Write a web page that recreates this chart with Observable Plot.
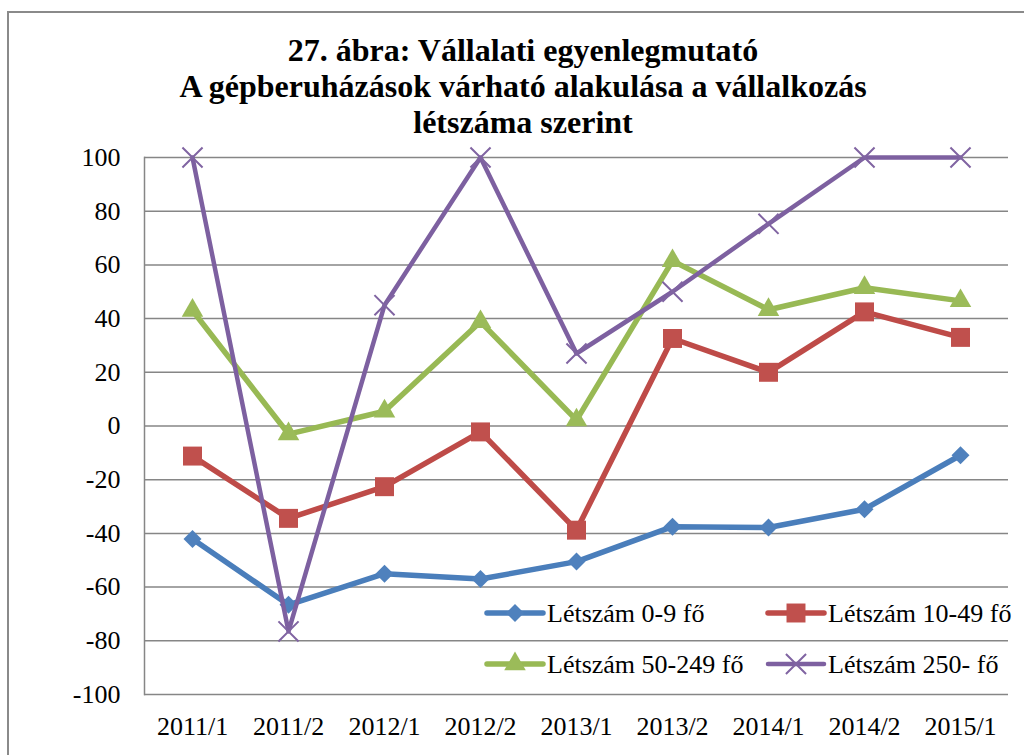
<!DOCTYPE html>
<html><head><meta charset="utf-8">
<script src="https://cdn.jsdelivr.net/npm/d3@7"></script>
<script src="https://cdn.jsdelivr.net/npm/@observablehq/plot@0.6"></script>
<style>
html,body{margin:0;padding:0;background:#fff;width:1024px;height:755px;overflow:hidden;}
#wrap{position:relative;width:1024px;height:755px;font-family:"Liberation Serif",Tinos,"Times New Roman",Times,"DejaVu Serif",serif;}
#border{position:absolute;left:7px;top:11px;width:1100px;height:1000px;border:2px solid #8a8a8a;}
#title{position:absolute;left:0;top:32px;width:1046px;text-align:center;font-weight:bold;font-size:32px;line-height:36px;color:#000;}
#chart{position:absolute;left:0;top:140px;}
#legend{position:absolute;left:0;top:0;pointer-events:none;}
#chart svg text, #legend text{font-family:"Liberation Serif",Tinos,"Times New Roman",Times,"DejaVu Serif",serif;}
</style></head>
<body><div id="wrap"><div id="border"></div><div id="title"></div><div id="chart"></div><svg id="legend" width="1024" height="755"></svg></div>
<script>
const titleLines = ["27. ábra: Vállalati egyenlegmutató", "A gépberuházások várható alakulása a vállalkozás", "létszáma szerint"];
const categories = ["2011/1","2011/2","2012/1","2012/2","2013/1","2013/2","2014/1","2014/2","2015/1"];
const seriesNames = ["Létszám 0-9 fő","Létszám 10-49 fő","Létszám 50-249 fő","Létszám 250- fő"];
const values0_9 =    [-42.1, -66.6, -55.0, -57.0, -50.5, -37.5, -37.8, -31.0, -10.9];
const values10_49 =  [-11.2, -34.4, -22.6, -2.2, -38.8, 32.6, 20.0, 42.5, 33.0];
const values50_249 = [43.0, -3.0, 5.5, 38.8, 2.2, 61.5, 43.3, 51.5, 46.6];
const values250 =    [100, -76.5, 45.0, 100, 27.0, 50.0, 75.3, 100, 100];
const yTicks = [-100,-80,-60,-40,-20,0,20,40,60,80,100];

const seriesValues = [values0_9, values10_49, values50_249, values250];
const styles = [
  {line:"#4a7ebb", width:5.5, symbol:"diamond2", r:8.1, fill:"#4f81bd", stroke:"none", sw:0},
  {line:"#be4b48", width:5.5, symbol:"square", r:10.7, fill:"#c0504d", stroke:"none", sw:0},
  {line:"#98b954", width:5.5, symbol:"triangle", r:8, fill:"#9bbb59", stroke:"none", sw:0},
  {line:"#7d60a0", width:4.5, symbol:"times", r:9.2, fill:"none", stroke:"#8064a2", sw:2}
];

document.getElementById("title").innerHTML = titleLines.join("<br>");

const marks = [
  Plot.ruleY(yTicks, {stroke:"#868686", strokeWidth:1.5}),
  Plot.frame({anchor:"left", stroke:"#868686", strokeWidth:1.5}),
  Plot.axisY(yTicks, {tickSize:0, tickPadding:24, fontSize:26, tickFormat:d => String(d)}),
  Plot.axisX({tickSize:0, tickPadding:22, fontSize:26})
];
seriesNames.forEach((name, i) => {
  const rows = categories.map((c, j) => ({cat:c, value:seriesValues[i][j], series:name}));
  const s = styles[i];
  marks.push(Plot.line(rows, {x:"cat", y:"value", stroke:s.line, strokeWidth:s.width}));
  marks.push(Plot.dot(rows, {x:"cat", y:"value", symbol:s.symbol, r:s.r, fill:s.fill, stroke:s.stroke, strokeWidth:s.sw}));
});

const chart = Plot.plot({
  width:1024, height:615,
  marginTop:17, marginBottom:61, marginLeft:144, marginRight:16,
  x:{type:"point", domain:categories, padding:0.5, label:null},
  y:{domain:[-100,100], label:null},
  style:{fontFamily:"'Liberation Serif', Tinos, 'Times New Roman', serif", fontSize:"26px", color:"#000", background:"transparent", overflow:"visible"},
  marks
});
document.getElementById("chart").appendChild(chart);

// legend (inside plot area, two rows)
const leg = d3.select("#legend");
const legPos = [[487,622],[768,622],[487,673],[768,673]];
const symMap = {diamond2:d3.symbolDiamond2, square:d3.symbolSquare, triangle:d3.symbolTriangle, times:d3.symbolTimes};
seriesNames.forEach((name, i) => {
  const [x0, yb] = legPos[i];
  const s = styles[i];
  const g = leg.append("g");
  const ly = yb - 9;
  g.append("line").attr("x1", x0).attr("x2", x0+56).attr("y1", ly).attr("y2", ly)
    .attr("stroke", s.line).attr("stroke-width", s.width).attr("stroke-linecap","round");
  g.append("path").attr("transform", `translate(${x0+28},${ly})`)
    .attr("d", d3.symbol(symMap[s.symbol], Math.PI*s.r*s.r)())
    .attr("fill", s.fill).attr("stroke", s.stroke).attr("stroke-width", s.sw);
  g.append("text").attr("x", x0+60).attr("y", yb).text(name)
    .attr("font-size",26).attr("fill","#000");
});
</script>
</body></html>
